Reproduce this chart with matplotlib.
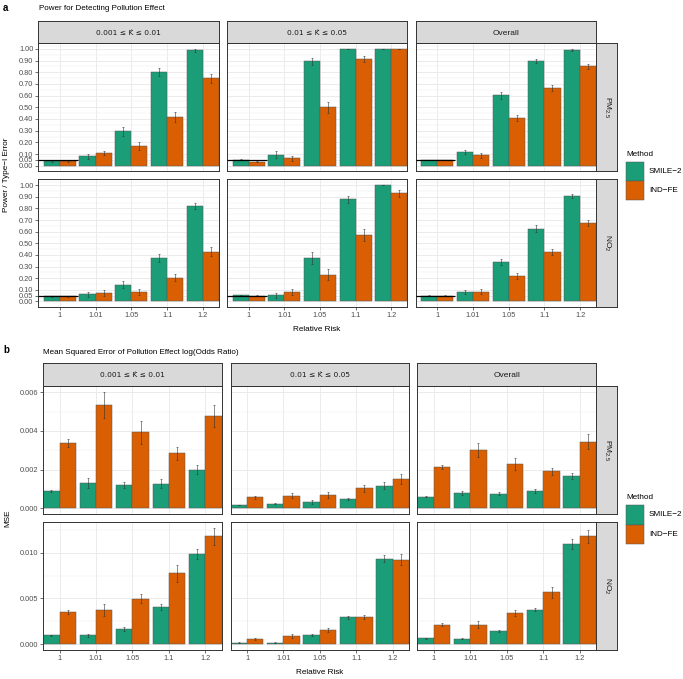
import numpy as np
import matplotlib
matplotlib.use("Agg")
import matplotlib.pyplot as plt
from matplotlib.patches import Rectangle

plt.rcParams['font.family'] = ['Liberation Sans', 'DejaVu Sans']
plt.rcParams['mathtext.fontset'] = 'custom'
plt.rcParams['mathtext.rm'] = 'Liberation Sans'
plt.rcParams['mathtext.it'] = 'Liberation Sans:italic'

# ---------------- data ----------------
rr_labels = ['1', '1.01', '1.05', '1.1', '1.2']
strata = ['0.001 \u2264 K\u0302 \u2264 0.01', '0.01 \u2264 K\u0302 \u2264 0.05', 'Overall']
pollutants = [r'PM$_{2.5}$', r'NO$_2$']
methods = ['SMILE\u22122', 'IND\u2212FE']

# Power (panel a): [pollutant][stratum][rr]
power_smile_pm = [[0.040, 0.080, 0.294, 0.803, 0.986],
                  [0.050, 0.094, 0.894, 1.000, 1.000],
                  [0.049, 0.114, 0.603, 0.894, 0.989]]
power_smile_pm_err = [[0.005, 0.021, 0.037, 0.033, 0.011],
                      [0.005, 0.029, 0.030, 0.000, 0.000],
                      [0.003, 0.017, 0.029, 0.017, 0.006]]
power_ind_pm = [[0.040, 0.109, 0.169, 0.417, 0.749],
                [0.034, 0.063, 0.500, 0.911, 1.000],
                [0.049, 0.089, 0.406, 0.663, 0.851]]
power_ind_pm_err = [[0.005, 0.020, 0.031, 0.039, 0.037],
                    [0.005, 0.023, 0.049, 0.026, 0.000],
                    [0.003, 0.020, 0.026, 0.026, 0.021]]
power_smile_no2 = [[0.045, 0.060, 0.145, 0.375, 0.818],
                   [0.054, 0.054, 0.375, 0.878, 1.000],
                   [0.050, 0.085, 0.341, 0.625, 0.903]]
power_smile_no2_err = [[0.005, 0.023, 0.028, 0.036, 0.026],
                       [0.005, 0.023, 0.053, 0.031, 0.000],
                       [0.003, 0.017, 0.027, 0.028, 0.017]]
power_ind_no2 = [[0.045, 0.071, 0.080, 0.205, 0.429],
                 [0.048, 0.080, 0.230, 0.571, 0.929],
                 [0.050, 0.085, 0.219, 0.429, 0.676]]
power_ind_no2_err = [[0.005, 0.024, 0.023, 0.027, 0.041],
                     [0.005, 0.028, 0.047, 0.050, 0.027],
                     [0.003, 0.020, 0.023, 0.026, 0.028]]
type1_level = 0.05

# MSE (panel b)
mse_smile_pm = [[0.00091, 0.00131, 0.00119, 0.00127, 0.00199],
                [0.00016, 0.00023, 0.00033, 0.00047, 0.00117],
                [0.00059, 0.00077, 0.00075, 0.00087, 0.00165]]
mse_smile_pm_err = [[0.00005, 0.00024, 0.00015, 0.00023, 0.00023],
                    [0.00002, 0.00003, 0.00010, 0.00007, 0.00020],
                    [0.00003, 0.00011, 0.00009, 0.00010, 0.00015]]
mse_ind_pm = [[0.00339, 0.00535, 0.00392, 0.00284, 0.00478],
              [0.00056, 0.00064, 0.00068, 0.00103, 0.00151],
              [0.00212, 0.00301, 0.00230, 0.00190, 0.00344]]
mse_ind_pm_err = [[0.00021, 0.00069, 0.00060, 0.00034, 0.00057],
                  [0.00006, 0.00013, 0.00016, 0.00019, 0.00026],
                  [0.00010, 0.00038, 0.00032, 0.00019, 0.00038]]
mse_smile_no2 = [[0.00098, 0.00098, 0.00167, 0.00411, 0.00985],
                 [0.00018, 0.00018, 0.00105, 0.00295, 0.00935],
                 [0.00065, 0.00062, 0.00142, 0.00378, 0.01095]]
mse_smile_no2_err = [[0.00007, 0.00015, 0.00018, 0.00033, 0.00051],
                     [0.00003, 0.00003, 0.00011, 0.00018, 0.00038],
                     [0.00003, 0.00009, 0.00011, 0.00015, 0.00055]]
mse_ind_no2 = [[0.00353, 0.00375, 0.00498, 0.00775, 0.01178],
               [0.00058, 0.00087, 0.00156, 0.00295, 0.00924],
               [0.00215, 0.00215, 0.00338, 0.00567, 0.01178]]
mse_ind_no2_err = [[0.00022, 0.00064, 0.00053, 0.00093, 0.00091],
                   [0.00011, 0.00024, 0.00022, 0.00025, 0.00058],
                   [0.00015, 0.00036, 0.00035, 0.00058, 0.00067]]

# ---------------- style ----------------
W, H = 683, 679
fig = plt.figure(figsize=(W / 100, H / 100), dpi=100)
C_SMILE = '#1B9E77'
C_IND = '#D95F02'
GRID = '#EBEBEB'
BORDER = '#333333'
STRIP = '#D9D9D9'
TICKC = '#4D4D4D'
FS_TICK = 5.3
FS_STRIP = 6.0
FS_TITLE = 5.8
FS_LAB = 5.9


def ax_at(x0, y0, x1, y1, **kw):
    return fig.add_axes([x0 / W, 1 - y1 / H, (x1 - x0) / W, (y1 - y0) / H], **kw)


def strip_top(x0, x1, y0, y1, label):
    a = ax_at(x0, y0, x1, y1)
    a.set_facecolor(STRIP)
    a.set_xticks([]); a.set_yticks([])
    for s in a.spines.values():
        s.set_color(BORDER); s.set_linewidth(0.7)
    if '\u0302' in label:
        a.text(0.5, 0.45, label, ha='center', va='center', fontsize=5.4,
               color='#1A1A1A', transform=a.transAxes, family=['DejaVu Sans'])
    else:
        a.text(0.5, 0.45, label, ha='center', va='center', fontsize=FS_STRIP,
               color='#1A1A1A', transform=a.transAxes)


def strip_right(x0, x1, y0, y1, label):
    a = ax_at(x0, y0, x1, y1)
    a.set_facecolor(STRIP)
    a.set_xticks([]); a.set_yticks([])
    for s in a.spines.values():
        s.set_color(BORDER); s.set_linewidth(0.7)
    a.text(0.5, 0.5, label, ha='center', va='center', fontsize=FS_STRIP,
           color='#1A1A1A', rotation=-90, transform=a.transAxes)


def draw_facet(ax, s_vals, s_err, i_vals, i_err, ylim, yticks, ylabels, minor,
               xlim, show_x, show_y, hline=None):
    x = np.arange(1, len(rr_labels) + 1)
    ax.set_xlim(*xlim)
    ax.set_ylim(*ylim)
    for m in minor:
        ax.axhline(m, color=GRID, lw=0.35, zorder=0)
    for t in yticks:
        ax.axhline(t, color=GRID, lw=0.7, zorder=0)
    for xi in x:
        ax.axvline(xi, color=GRID, lw=0.7, zorder=0)
    ax.bar(x - 0.225, s_vals, width=0.45, color=C_SMILE, edgecolor='#555555',
           linewidth=0.35, zorder=2)
    ax.bar(x + 0.225, i_vals, width=0.45, color=C_IND, edgecolor='#555555',
           linewidth=0.35, zorder=2)
    ax.errorbar(x - 0.225, s_vals, yerr=s_err, fmt='none', ecolor='#333333',
                elinewidth=0.4, capsize=0.8, capthick=0.4, zorder=3)
    ax.errorbar(x + 0.225, i_vals, yerr=i_err, fmt='none', ecolor='#333333',
                elinewidth=0.4, capsize=0.8, capthick=0.4, zorder=3)
    if hline is not None:
        ax.plot([xlim[0], 1.5], [hline, hline], color='black', lw=0.9, zorder=4,
                solid_capstyle='butt')
    ax.set_xticks(x)
    ax.set_yticks(yticks)
    if show_x:
        ax.set_xticklabels(rr_labels)
    else:
        ax.set_xticklabels([])
    if show_y:
        ax.set_yticklabels(ylabels)
    else:
        ax.set_yticklabels([])
    ax.tick_params(axis='both', length=2, width=0.5, color=BORDER,
                   labelsize=FS_TICK, labelcolor=TICKC, pad=1.5)
    if not show_x:
        ax.tick_params(axis='x', length=0)
    if not show_y:
        ax.tick_params(axis='y', length=0)
    for s in ax.spines.values():
        s.set_color(BORDER); s.set_linewidth(0.7)
    ax.set_facecolor('white')


# ---------------- panel a ----------------
a_cols = [(38.3, 219.0), (227.3, 407.3), (415.7, 596.3)]
a_rows = [(43.0, 171.0), (179.3, 306.7)]
a_yticks = [0.0, 0.05, 0.1, 0.2, 0.3, 0.4, 0.5, 0.6, 0.7, 0.8, 0.9, 1.0]
a_ylabels = ['%.2f' % t for t in a_yticks]
a_minor = [0.025, 0.075, 0.15, 0.25, 0.35, 0.45, 0.55, 0.65, 0.75, 0.85, 0.95, 1.025]
power_s = [power_smile_pm, power_smile_no2]
power_se = [power_smile_pm_err, power_smile_no2_err]
power_i = [power_ind_pm, power_ind_no2]
power_ie = [power_ind_pm_err, power_ind_no2_err]
for r, (y0, y1) in enumerate(a_rows):
    for c, (x0, x1) in enumerate(a_cols):
        ax = ax_at(x0, y0, x1, y1)
        draw_facet(ax, power_s[r][c], power_se[r][c], power_i[r][c], power_ie[r][c],
                   (-0.045, 1.05), a_yticks, a_ylabels, a_minor, (0.4, 5.45),
                   show_x=(r == 1), show_y=(c == 0), hline=type1_level)
for c, (x0, x1) in enumerate(a_cols):
    strip_top(x0, x1, 21.0, 43.0, strata[c])
for r, (y0, y1) in enumerate(a_rows):
    strip_right(596.3, 617.3, y0, y1, pollutants[r])

fig.text(3 / W, 1 - 8 / H, 'a', fontsize=7, fontweight='bold', va='center', ha='left')
fig.text(39 / W, 1 - 8.5 / H, 'Power for Detecting Pollution Effect', fontsize=FS_TITLE,
         va='center', ha='left')
fig.text(7 / W, 1 - 175 / H, 'Power / Type\u2212I Error', rotation=90, fontsize=FS_LAB,
         va='center', ha='center')
fig.text(317 / W, 1 - 329 / H, 'Relative Risk', fontsize=FS_LAB, va='center', ha='center')

# ---------------- panel b ----------------
b_cols = [(43.3, 221.7), (230.7, 409.0), (417.3, 596.3)]
b_rows = [(385.7, 514.0), (522.3, 650.0)]
mse_s = [mse_smile_pm, mse_smile_no2]
mse_se = [mse_smile_pm_err, mse_smile_no2_err]
mse_i = [mse_ind_pm, mse_ind_no2]
mse_ie = [mse_ind_pm_err, mse_ind_no2_err]
b_yticks = [[0.0, 0.002, 0.004, 0.006], [0.0, 0.005, 0.010]]
b_minor = [[0.001, 0.003, 0.005], [0.0025, 0.0075, 0.0125]]
for r, (y0, y1) in enumerate(b_rows):
    top = max((np.array(mse_s[r][c]) + np.array(mse_se[r][c])).max() for c in range(3))
    top = max(top, max((np.array(mse_i[r][c]) + np.array(mse_ie[r][c])).max() for c in range(3)))
    pad = 0.05 * top
    for c, (x0, x1) in enumerate(b_cols):
        ax = ax_at(x0, y0, x1, y1)
        draw_facet(ax, mse_s[r][c], mse_se[r][c], mse_i[r][c], mse_ie[r][c],
                   (-pad, top + pad), b_yticks[r], ['%.3f' % t for t in b_yticks[r]],
                   b_minor[r], (0.55, 5.45), show_x=(r == 1), show_y=(c == 0))
for c, (x0, x1) in enumerate(b_cols):
    strip_top(x0, x1, 363.0, 385.7, strata[c])
for r, (y0, y1) in enumerate(b_rows):
    strip_right(596.3, 617.3, y0, y1, pollutants[r])

fig.text(3 / W, 1 - 350 / H, 'b', fontsize=7, fontweight='bold', va='center', ha='left')
fig.text(43 / W, 1 - 352 / H, 'Mean Squared Error of Pollution Effect log(Odds Ratio)',
         fontsize=FS_TITLE, va='center', ha='left')
fig.text(8 / W, 1 - 518 / H, 'MSE', rotation=90, fontsize=FS_LAB, va='center', ha='center')
fig.text(320 / W, 1 - 672 / H, 'Relative Risk', fontsize=FS_LAB, va='center', ha='center')


# ---------------- legends ----------------
def legend_at(title_y, key_y0):
    fig.text(626 / W, 1 - title_y / H, 'Method', fontsize=FS_LAB, va='center', ha='left')
    for k, (col, lab) in enumerate(zip([C_SMILE, C_IND], methods)):
        ky0 = key_y0 + k * 19.2
        fig.patches.append(Rectangle((626 / W, 1 - (ky0 + 19.2) / H), 18.3 / W, 19.2 / H,
                                     transform=fig.transFigure, facecolor=col,
                                     edgecolor='#555555', linewidth=0.35))
        fig.text(649 / W, 1 - (ky0 + 9.6) / H, lab, fontsize=FS_LAB, va='center', ha='left')


legend_at(154.0, 162.0)
legend_at(497.7, 505.3)

fig.savefig('out.png', dpi=100, facecolor='white')
